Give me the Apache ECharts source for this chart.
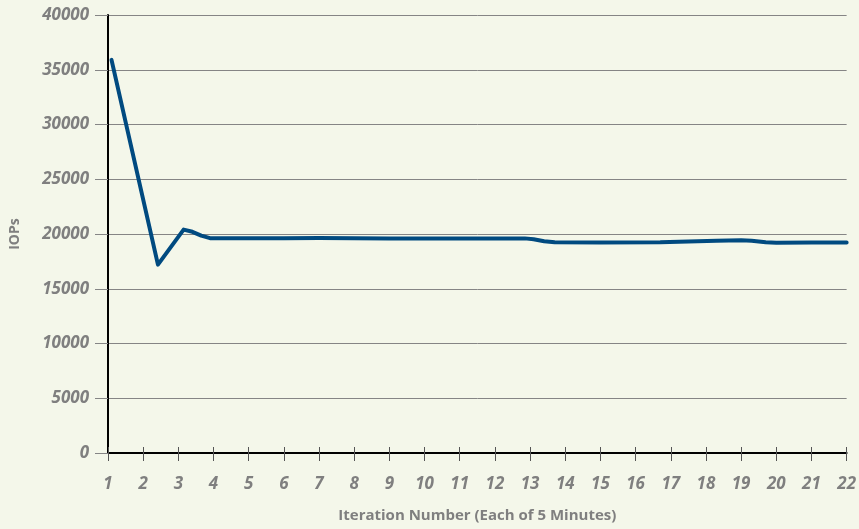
<!DOCTYPE html>
<html>
<head>
<meta charset="utf-8">
<script src="https://cdn.jsdelivr.net/npm/echarts@6/dist/echarts.min.js"></script>
<style>
  html, body { margin: 0; padding: 0; background: #f4f7ea; }
  #main { width: 859px; height: 529px; }
</style>
</head>
<body>
<div id="main"></div>
<script>
// iteration positions (x) and IOPs readings (y)
let iterX = [1.1, 2.42, 3.15, 3.4, 3.65, 3.9, 5, 6, 7, 8, 9, 10, 11, 12, 12.85, 13.1, 13.4, 13.7, 15, 16.7, 17.5, 18.3, 19.0, 19.3, 19.7, 20.0, 21, 22]
let iops = [35900, 17200, 20400, 20200, 19850, 19620, 19610, 19620, 19630, 19610, 19600, 19590, 19600, 19600, 19600, 19520, 19330, 19240, 19230, 19240, 19310, 19390, 19420, 19380, 19250, 19200, 19220, 19230]

let xMin = 1, xMax = 22
let yMin = 0, yMax = 40000, yStep = 5000

let myChart = echarts.init(document.getElementById('main'))

let labelFont = {
    color: '#7f7f7f',
    fontFamily: 'Open Sans',
    fontWeight: 'bold',
    fontStyle: 'italic',
    fontSize: 17
}

let option = {
    backgroundColor: '#f4f7ea',
    animation: false,
    grid: {
        left: 107,
        right: 11,
        top: 15,
        bottom: 76
    },
    xAxis: [{
        type: 'value',
        min: xMin,
        max: xMax,
        interval: 1,
        name: 'Iteration Number (Each of 5 Minutes)',
        nameLocation: 'middle',
        nameGap: 55,
        nameTextStyle: {
            color: '#7f7f7f',
            fontFamily: 'Open Sans',
            fontWeight: 'bold',
            fontSize: 15
        },
        axisLine: { lineStyle: { color: '#000', width: 2 } },
        axisTick: { length: 8, lineStyle: { color: '#555', width: 1 } },
        axisLabel: Object.assign({ margin: 23 }, labelFont),
        splitLine: { show: false }
    }, {
        // second axis only for the tick marks that cross into the plot
        type: 'value',
        min: xMin,
        max: xMax,
        interval: 1,
        position: 'bottom',
        axisLine: { show: false },
        axisTick: { inside: true, length: 6, lineStyle: { color: '#555', width: 1 } },
        axisLabel: { show: false },
        splitLine: { show: false }
    }],
    yAxis: {
        type: 'value',
        min: yMin,
        max: yMax,
        interval: yStep,
        name: 'IOPs',
        nameLocation: 'middle',
        nameRotate: 90,
        nameGap: 86,
        nameTextStyle: {
            color: '#7f7f7f',
            fontFamily: 'Open Sans',
            fontWeight: 'bold',
            fontSize: 14
        },
        axisLine: { show: true, lineStyle: { color: '#000', width: 2 } },
        axisTick: { show: true, length: 13, lineStyle: { color: '#858585', width: 1 } },
        axisLabel: Object.assign({ margin: 19, formatter: v => String(v) }, labelFont),
        splitLine: { show: true, lineStyle: { color: '#858585', width: 1 } }
    },
    series: [{
        type: 'line',
        data: iterX.map((x, i) => [x, iops[i]]),
        smooth: false,
        showSymbol: false,
        lineStyle: { color: '#004a80', width: 4, cap: 'round', join: 'round' },
        z: 5
    }]
}

myChart.setOption(option)
</script>
</body>
</html>
